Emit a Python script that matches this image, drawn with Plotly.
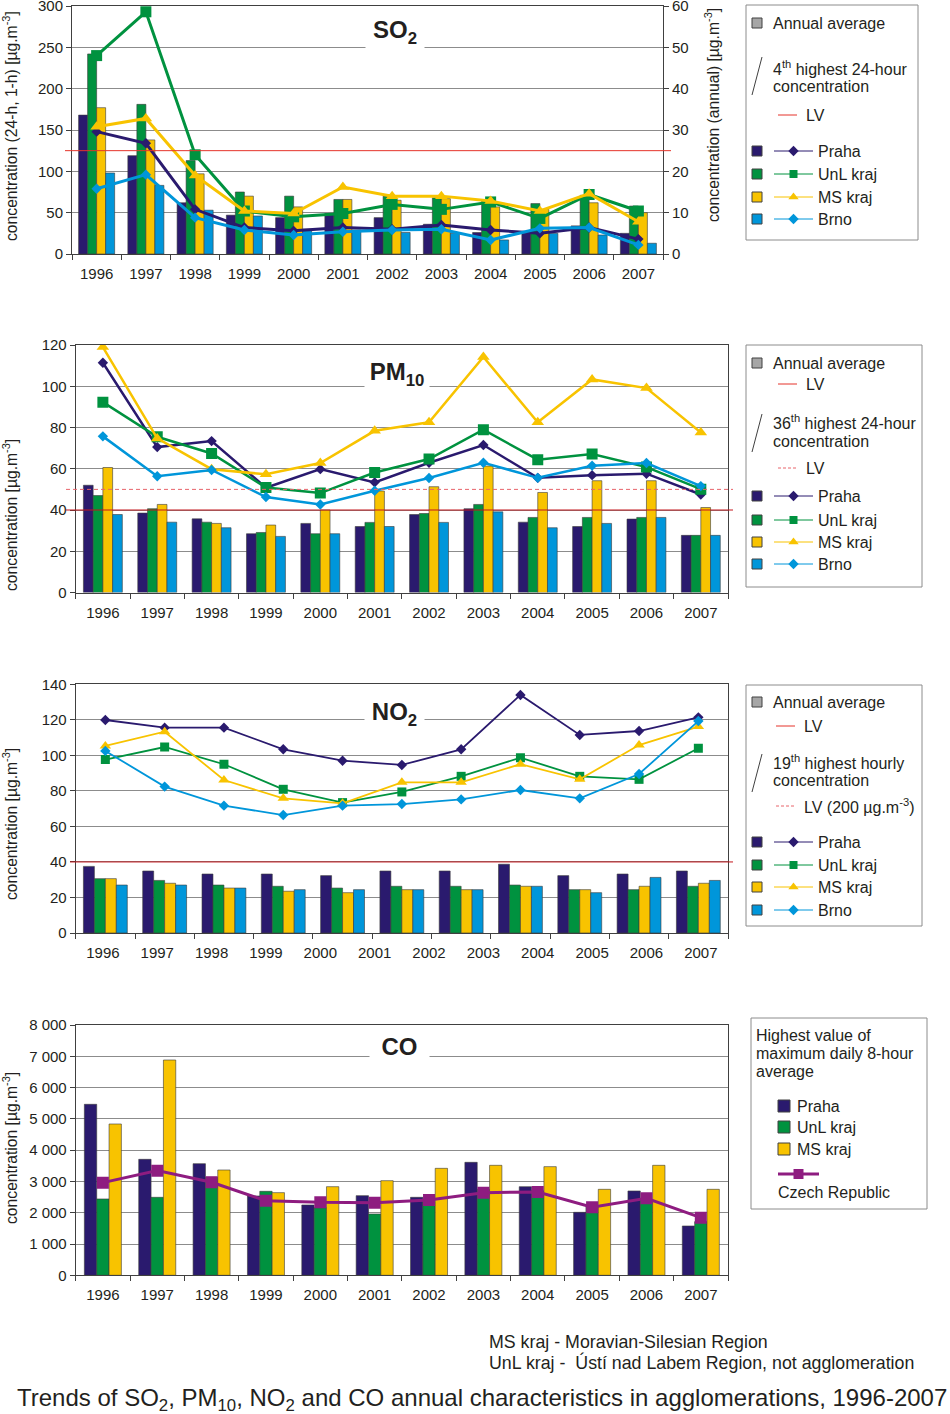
import plotly.graph_objects as go

W, H = 950, 1414
FONT = "Liberation Sans, Arial, sans-serif"
TXT = "#231f20"
GRID = "#8c8c8c"
AXIS = "#404040"
EDGE = "#3a3a3a"

C_PRAHA = "#2a1a6e"
C_UNL = "#00923f"
C_MS = "#f8c300"
C_BRNO = "#0096da"
C_CZ = "#8e1c80"
C_GRAY = "#a6a6a6"
C_LV = "#e5332a"
C_LV_DARK = "#c3161c"
C_LV_DASH = "#e8646a"

# ---------------- data ----------------
years = [str(y) for y in range(1996, 2008)]
region_names = ["Praha", "UnL kraj", "MS kraj", "Brno"]

# SO2 annual average (right axis)
so2_avg_praha = [33.6, 23.8, 12.4, 9.4, 8.8, 9.8, 8.8, 7.2, 5.2, 5.0, 6.8, 5.0]
so2_avg_unl = [48.4, 36.2, 22.6, 15.0, 14.0, 13.2, 14.0, 13.6, 13.0, 12.2, 14.2, 11.6]
so2_avg_ms = [35.4, 27.6, 19.4, 14.0, 11.4, 13.2, 13.0, 13.4, 11.4, 10.8, 12.4, 10.0]
so2_avg_brno = [19.6, 16.6, 10.6, 9.2, 6.0, 5.8, 5.2, 5.0, 3.4, 5.0, 4.6, 2.6]
# SO2 4th highest 24-hour concentration (left axis)
so2_24h_praha = [148, 134, 54, 32, 28, 32, 30, 35, 29, 25, 32, 18]
so2_24h_unl = [240, 293, 120, 52, 45, 49, 60, 54, 63, 43, 72, 52]
so2_24h_ms = [154, 164, 95, 52, 49, 81, 70, 70, 64, 52, 73, 39]
so2_24h_brno = [79, 96, 44, 29, 23, 27, 29, 30, 17, 31, 32, 11]
so2_lv_24h = 125

# PM10 annual average
pm_avg_praha = [52.0, 38.5, 35.7, 28.5, 33.5, 32.0, 37.8, 40.6, 34.1, 32.0, 35.6, 27.7]
pm_avg_unl = [47.0, 40.6, 34.1, 29.1, 28.5, 34.0, 38.3, 42.7, 36.4, 36.4, 36.4, 27.7]
pm_avg_ms = [60.6, 42.7, 33.5, 32.7, 40.0, 49.2, 51.3, 61.3, 48.5, 54.2, 54.2, 41.2]
pm_avg_brno = [37.8, 34.1, 31.4, 27.2, 28.5, 32.0, 34.0, 39.1, 31.4, 33.5, 36.4, 27.7]
# PM10 36th highest 24-hour concentration
pm_36_praha = [111.4, 70.5, 73.4, 50.8, 59.8, 53.4, 62.9, 71.5, 55.6, 56.9, 57.6, 47.5]
pm_36_unl = [92.3, 75.5, 67.4, 50.9, 48.2, 58.2, 64.7, 78.9, 64.4, 67.1, 60.8, 50.1]
pm_36_ms = [119.0, 74.7, 59.8, 57.3, 62.8, 78.4, 82.5, 114.2, 82.5, 103.3, 99.1, 77.6]
pm_36_brno = [75.7, 56.4, 59.4, 46.3, 42.7, 49.3, 55.5, 62.9, 55.6, 61.5, 62.8, 51.6]
pm_lv_avg = 40
pm_lv_24h = 50

# NO2 (11 data groups drawn under 12 year labels, as in the original)
no2_avg_praha = [37.5, 34.9, 33.2, 33.2, 32.3, 34.9, 34.9, 38.7, 32.3, 33.2, 34.9]
no2_avg_unl = [30.6, 29.6, 27.0, 26.3, 25.3, 26.3, 26.3, 27.0, 24.4, 24.4, 26.3]
no2_avg_ms = [30.6, 28.0, 25.3, 23.5, 22.7, 24.4, 24.4, 26.3, 24.4, 26.3, 28.0]
no2_avg_brno = [27.0, 27.0, 25.3, 24.4, 24.4, 24.4, 24.4, 26.3, 22.7, 31.3, 29.6]
no2_19_praha = [119.9, 115.6, 115.6, 103.4, 97.0, 94.6, 103.4, 134.0, 111.5, 113.7, 121.4]
no2_19_unl = [97.6, 104.7, 95.0, 80.9, 73.4, 79.4, 88.2, 98.7, 88.2, 86.5, 104.0]
no2_19_ms = [105.3, 113.3, 86.1, 75.8, 73.0, 84.8, 84.8, 95.0, 86.5, 105.8, 116.2]
no2_19_brno = [102.5, 82.4, 71.7, 66.4, 71.7, 72.6, 75.2, 80.5, 75.8, 89.5, 119.3]
no2_lv_avg = 40

# CO highest maximum daily 8-hour average
co_praha = [5465, 3707, 3568, 2535, 2248, 2546, 2493, 3611, 2833, 2013, 2695, 1576]
co_unl = [2440, 2493, 3132, 2684, 2162, 1960, 2354, 2750, 2700, 2194, 2407, 1715]
co_ms = [4836, 6881, 3366, 2642, 2833, 3025, 3419, 3515, 3473, 2748, 3515, 2748]
co_cz = [2961, 3345, 2972, 2386, 2333, 2322, 2407, 2642, 2663, 2173, 2460, 1843]
co_ticks = [0, 1000, 2000, 3000, 4000, 5000, 6000, 7000, 8000]
co_tick_text = ["0", "1 000", "2 000", "3 000", "4 000", "5 000", "6 000", "7 000", "8 000"]

# ---------------- figure ----------------
fig = go.Figure()


def dx(x0, x1):
    return [x0 / W, x1 / W]


def dy(top, bot):
    return [1 - bot / H, 1 - top / H]


tickfont = dict(family=FONT, size=15, color=TXT)


def xaxis_cfg(domain, anchor, n, tickvals, ticktext):
    return dict(domain=domain, anchor=anchor, range=[-0.5, n - 0.5],
                tickmode="array", tickvals=tickvals, ticktext=ticktext,
                ticks="outside", ticklen=6, tickcolor="rgba(0,0,0,0)",
                minor=dict(tickmode="linear", tick0=-0.5, dtick=1, ticks="outside",
                           ticklen=5, tickcolor=AXIS, tickwidth=1, showgrid=False),
                showline=True, linecolor=AXIS, linewidth=1, mirror=True,
                showgrid=False, zeroline=False, tickfont=tickfont, fixedrange=True,
                automargin=False, ticklabeloverflow="allow")


def yaxis_cfg(domain, anchor, rng, dtick, side="left", grid=True, mirror=True, **kw):
    d = dict(domain=domain, anchor=anchor, range=rng, dtick=dtick, tick0=0, side=side,
             ticks="outside", ticklen=5, tickcolor=AXIS, showline=True, linecolor=AXIS,
             linewidth=1, mirror=mirror, showgrid=grid, gridcolor=GRID, gridwidth=1,
             zeroline=False, tickfont=tickfont, fixedrange=True, automargin=False,
             ticklabeloverflow="allow")
    d.update(kw)
    return d


def add_bars(xa, ya, series, colors, width):
    n = len(series)
    for k, (vals, col) in enumerate(zip(series, colors)):
        fig.add_trace(go.Bar(
            x=list(range(len(vals))), y=vals, width=width,
            offset=-n * width / 2 + k * width,
            marker=dict(color=col, line=dict(color=EDGE, width=0.6)),
            xaxis=xa, yaxis=ya, showlegend=False, hoverinfo="skip"))


def add_lines(xa, ya, series, colors, symbols, sizes, lw):
    for vals, col, sym, sz in zip(series, colors, symbols, sizes):
        fig.add_trace(go.Scatter(
            x=list(range(len(vals))), y=vals, mode="lines+markers",
            line=dict(color=col, width=lw),
            marker=dict(symbol=sym, size=sz, color=col),
            xaxis=xa, yaxis=ya, showlegend=False, hoverinfo="skip"))


cols4 = [C_PRAHA, C_UNL, C_MS, C_BRNO]
syms4 = ["diamond", "square", "triangle-up", "diamond"]
n_years = len(years)
year_pos = list(range(n_years))

# SO2 : bars on y (right, annual), lines on y2 (left, 24-h)
add_bars("x", "y", [so2_avg_praha, so2_avg_unl, so2_avg_ms, so2_avg_brno], cols4, 0.183)
add_lines("x", "y2", [so2_24h_praha, so2_24h_unl, so2_24h_ms, so2_24h_brno], cols4,
          syms4, [8, 11, 11, 8], 3)

# PM10
add_bars("x2", "y3", [pm_avg_praha, pm_avg_unl, pm_avg_ms, pm_avg_brno], cols4, 0.179)
add_lines("x2", "y3", [pm_36_praha, pm_36_unl, pm_36_ms, pm_36_brno], cols4,
          syms4, [8, 11, 11, 8], 2.5)

# NO2
add_bars("x3", "y4", [no2_avg_praha, no2_avg_unl, no2_avg_ms, no2_avg_brno], cols4, 0.185)
add_lines("x3", "y4", [no2_19_praha, no2_19_unl, no2_19_ms, no2_19_brno], cols4,
          syms4, [8, 9, 10, 8], 1.8)

# CO
add_bars("x4", "y5", [co_praha, co_unl, co_ms], [C_PRAHA, C_UNL, C_MS], 0.227)
fig.add_trace(go.Scatter(x=year_pos, y=co_cz, mode="lines+markers",
                         line=dict(color=C_CZ, width=3),
                         marker=dict(symbol="square", size=12, color=C_CZ),
                         xaxis="x4", yaxis="y5", showlegend=False, hoverinfo="skip"))

n_no2 = len(no2_avg_praha)
no2_label_pos = [-0.5 + (i + 0.5) * n_no2 / n_years for i in range(n_years)]

layout = dict(
    xaxis=xaxis_cfg(dx(72, 663), "y", n_years, year_pos, years),
    yaxis=yaxis_cfg(dy(6, 254), "x", [0, 60], 10, side="right", mirror=False),
    yaxis2=yaxis_cfg(dy(6, 254), "x", [0, 300], 50, side="left", grid=False,
                     mirror=False, overlaying="y"),
    xaxis2=xaxis_cfg(dx(75.7, 728), "y3", n_years, year_pos, years),
    yaxis3=yaxis_cfg(dy(345, 592.5), "x2", [0, 120], 20),
    xaxis3=xaxis_cfg(dx(75.7, 728), "y4", n_no2, no2_label_pos, years),
    yaxis4=yaxis_cfg(dy(684.3, 933), "x3", [0, 140], 20),
    xaxis4=xaxis_cfg(dx(75.7, 728), "y5", n_years, year_pos, years),
    yaxis5=yaxis_cfg(dy(1025, 1275.3), "x4", [0, 8000], 1000,
                     tickmode="array", tickvals=co_ticks, ticktext=co_tick_text),
    # full-page pixel overlay for legends and labels
    xaxis5=dict(domain=[0, 1], range=[0, W], visible=False, anchor="y6",
                fixedrange=True, automargin=False),
    yaxis6=dict(domain=[0, 1], range=[H, 0], visible=False, anchor="x5",
                fixedrange=True, automargin=False),
)

shapes = []
annotations = []


def text(x, y, s, size=16, xanchor="left", yanchor="middle", **kw):
    annotations.append(dict(x=x, y=y, text=s, showarrow=False, xanchor=xanchor,
                            yanchor=yanchor, xref="x5", yref="y6",
                            font=dict(family=FONT, size=size, color=TXT), **kw))


def rect(x0, y0, x1, y1, fill="rgba(0,0,0,0)", line="#404040", w=1):
    shapes.append(dict(type="rect", x0=x0, y0=y0, x1=x1, y1=y1, xref="x5", yref="y6",
                       fillcolor=fill, line=dict(color=line, width=w), layer="above"))


def seg(x0, y0, x1, y1, color, w=1, dash="solid"):
    shapes.append(dict(type="line", x0=x0, y0=y0, x1=x1, y1=y1, xref="x5", yref="y6",
                       line=dict(color=color, width=w, dash=dash), layer="above"))


def lv(yref, value, xl, xr, color, dash="solid", w=1):
    shapes.append(dict(type="line", xref="paper", yref=yref, x0=xl / W, x1=xr / W,
                       y0=value, y1=value, line=dict(color=color, width=w, dash=dash),
                       layer="above"))


def legend_line(x0, x1, y, color, sym, size, lw=1):
    fig.add_trace(go.Scatter(x=[x0, x1], y=[y, y], mode="lines",
                             line=dict(color=color, width=lw), xaxis="x5", yaxis="y6",
                             showlegend=False, hoverinfo="skip"))
    fig.add_trace(go.Scatter(x=[(x0 + x1) / 2], y=[y], mode="markers",
                             marker=dict(symbol=sym, size=size, color=color),
                             xaxis="x5", yaxis="y6", showlegend=False, hoverinfo="skip"))


# LV lines
lv("y2", so2_lv_24h, 65, 671, C_LV)
lv("y3", pm_lv_avg, 66, 733, C_LV_DARK)
lv("y3", pm_lv_24h, 66, 733, C_LV_DASH, dash="4px,3px")
lv("y4", no2_lv_avg, 70, 733, C_LV_DARK)

# panel titles (white background hides grid line)
text(394.5, 32, "<b>SO<sub>2</sub></b>", size=24, xanchor="center",
     bgcolor="white", width=56, height=40)
text(396.5, 374, "<b>PM<sub>10</sub></b>", size=24, xanchor="center",
     bgcolor="white", width=62, height=36)
text(394, 714, "<b>NO<sub>2</sub></b>", size=24, xanchor="center",
     bgcolor="white", width=57, height=36)
text(399, 1046, "<b>CO</b>", size=24, xanchor="center",
     bgcolor="white", width=57, height=34)

# axis titles
unit = "[µg.m<sup>-3</sup>]"
text(10, 126, "concentration (24-h, 1-h) " + unit, size=15.7, xanchor="center", textangle=-90)
text(712, 115, "concentration (annual) " + unit, size=15.7, xanchor="center", textangle=-90)
text(10, 515, "concentration " + unit, size=15.7, xanchor="center", textangle=-90)
text(10, 824, "concentration " + unit, size=15.7, xanchor="center", textangle=-90)
text(10, 1148, "concentration " + unit, size=15.7, xanchor="center", textangle=-90)


def region_rows(ys, sizes):
    for y, col, sym, nm, sz in zip(ys, cols4, syms4, region_names, sizes):
        rect(752, y - 5, 762, y + 5, fill=col)
        legend_line(774, 813, y, col, sym, sz)
        text(816, y, nm)


# SO2 legend
rect(746, 5, 918, 240, line="#8c8c8c")
rect(752, 18, 762, 28, fill=C_GRAY)
text(771, 23, "Annual average")
seg(752, 95, 762, 57, "#404040")
text(771, 68, "4<sup>th</sup> highest 24-hour")
text(771, 86, "concentration")
seg(778, 115, 797, 115, C_LV)
text(804, 115, "LV")
region_rows([151, 174, 197, 219], [8, 8, 9, 8])

# PM10 legend
rect(746, 345, 922, 587, line="#8c8c8c")
rect(752, 358, 762, 368, fill=C_GRAY)
text(771, 363, "Annual average")
seg(778, 384, 797, 384, C_LV)
text(804, 384, "LV")
seg(752, 452, 762, 414, "#404040")
text(771, 422, "36<sup>th</sup> highest 24-hour")
text(771, 441, "concentration")
seg(778, 468, 797, 468, C_LV_DASH, dash="3px,2px")
text(804, 468, "LV")
region_rows([496, 520, 542, 564], [8, 8, 9, 8])

# NO2 legend
rect(746, 685, 922, 926, line="#8c8c8c")
rect(752, 697, 762, 707, fill=C_GRAY)
text(771, 702, "Annual average")
seg(776, 726, 795, 726, C_LV)
text(802, 726, "LV")
seg(752, 792, 762, 754, "#404040")
text(771, 762, "19<sup>th</sup> highest hourly")
text(771, 780, "concentration")
seg(776, 806, 795, 806, C_LV_DASH, dash="3px,2px")
text(802, 806, "LV (200 µg.m<sup>-3</sup>)")
region_rows([842, 865, 887, 910], [8, 8, 9, 8])

# CO legend
rect(751, 1018, 927, 1209, line="#8c8c8c")
text(754, 1035, "Highest value of")
text(754, 1053, "maximum daily 8-hour")
text(754, 1071, "average")
for y, col, nm in zip([1106, 1127, 1149], [C_PRAHA, C_UNL, C_MS], region_names[:3]):
    rect(778, y - 6, 790, y + 6, fill=col)
    text(795, y, nm)
legend_line(778, 819, 1174, C_CZ, "square", 10, lw=3)
text(776, 1192, "Czech Republic")

# notes and caption
text(487, 1342, "MS kraj - Moravian-Silesian Region", size=17.8)
text(487, 1362, "UnL kraj -  Ústí nad Labem Region, not agglomeration", size=17.8)
text(482, 1399, "Trends of SO<sub>2</sub>, PM<sub>10</sub>, NO<sub>2</sub> and CO annual "
     "characteristics in agglomerations, 1996-2007", size=24, xanchor="center")

fig.update_layout(
    **layout,
    shapes=shapes,
    annotations=annotations,
    width=W, height=H,
    margin=dict(l=0, r=0, t=0, b=0, autoexpand=False),
    paper_bgcolor="white",
    plot_bgcolor="rgba(0,0,0,0)",
    barmode="overlay",
    showlegend=False,
    font=dict(family=FONT, size=15, color=TXT),
)

fig.write_html("out.html", config={"displayModeBar": False},
               post_script="document.body.style.margin='0px';"
                           "document.body.style.overflow='hidden';")
